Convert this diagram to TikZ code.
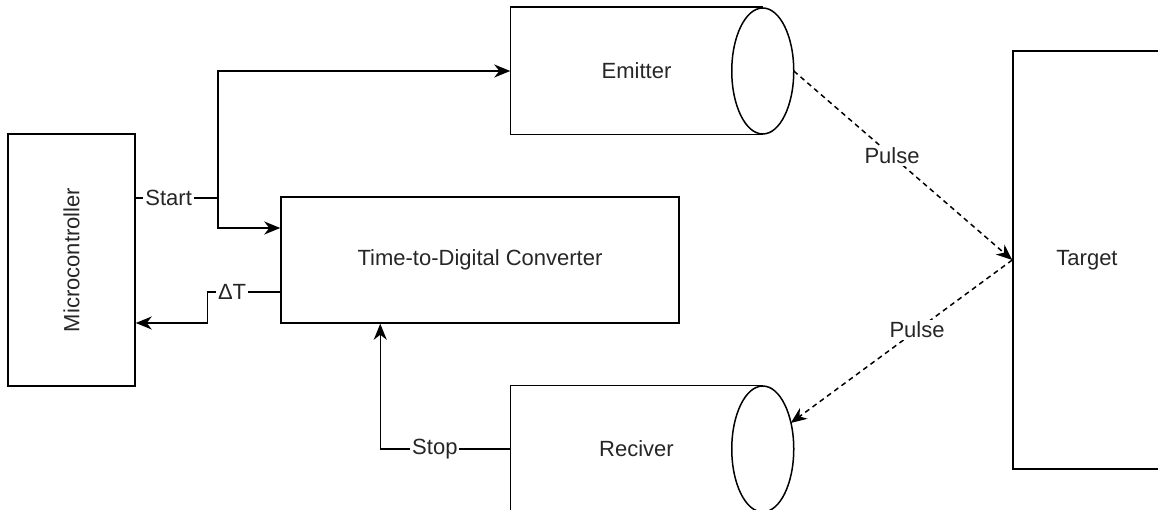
\documentclass[tikz,border=0pt]{standalone}
\usepackage{fontspec}
\setmainfont{Liberation Sans}
\usetikzlibrary{arrows.meta,calc}

\tikzset{
	blk/.style={draw, line width=1.5pt, minimum width=#1, inner sep=0pt},
	lbl/.style={fill=white, inner sep=2pt},
	arr/.style={-{Stealth[length=16pt,width=13pt,inset=5pt]}},
	pulse/.style={arr, dash pattern=on 5pt off 4pt}
}

\begin{document}
\begin{tikzpicture}[x=1pt, y=-1pt, line width=1.5pt, font=\fontsize{22}{26}\selectfont, text=black!85]
	\useasboundingbox (0,0) rectangle (1158,510);

	% blocks
	\node[blk=127, minimum height=252] (micro) at (71.5,260) {\rotatebox{90}{Microcontroller}};
	\node[blk=398, minimum height=126] (tdc) at (480,260) {Time-to-Digital Converter};
	\node[blk=148, minimum height=418] (target) at (1087,260) {Target};
	\node[minimum width=251, minimum height=126, inner sep=0pt] (emitter) at (636.5,71) {Emitter};
	\node[minimum width=251, minimum height=126, inner sep=0pt] (receiver) at (636.5,449) {Reciver};
	\foreach \c in {emitter,receiver}{
		\draw (\c.north east) -- (\c.north west) -- (\c.south west) -- (\c.south east);
		\draw[fill=white] (\c.east) ellipse (31 and 63);
	}

	% start
	\coordinate (split) at (218,198);
	\draw (split -| micro.east) -- node[lbl, pos=0.4] {Start} (split);
	\draw[arr] (split) |- (emitter.west);
	\draw[arr] (split) |- ($(tdc.west)+(0,-32)$);

	% delta T and stop
	\draw[arr] ($(tdc.west)+(0,32)$) -- node[lbl, pos=0.66] {ΔT} ++(-73,0) |- ($(micro.east)+(0,63)$);
	\draw[arr] (receiver.west) -| node[lbl, pos=0.29] {Stop} ($(tdc.south west)+(100,0)$);

	% pulses
	\coordinate (emitout) at ($(emitter.east)+(31,0)$);
	\coordinate (recvin) at ($(receiver.east)+(28,-26)$);
	\draw[pulse] (emitout) -- node[lbl, pos=0.45] {Pulse} (target.west);
	\draw[pulse] (target.west) -- node[lbl, pos=0.43] {Pulse} (recvin);
\end{tikzpicture}
\end{document}
